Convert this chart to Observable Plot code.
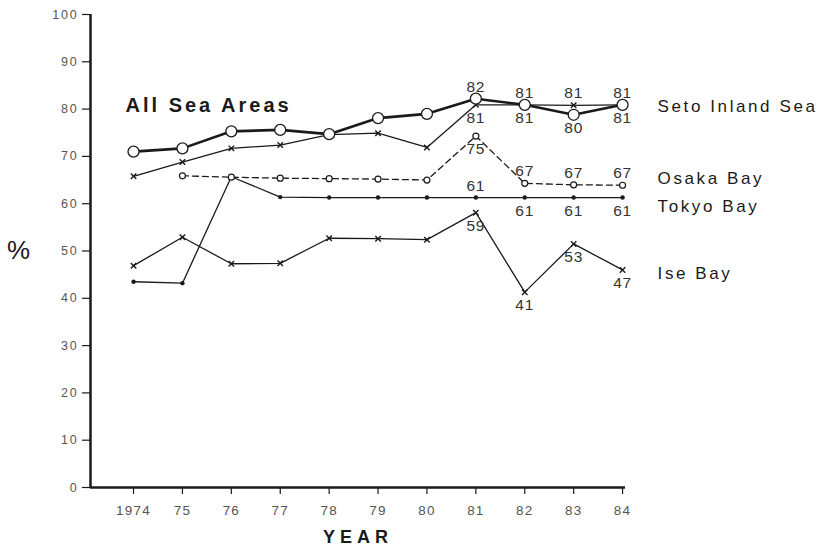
<!DOCTYPE html>
<html><head><meta charset="utf-8">
<script src="https://cdn.jsdelivr.net/npm/d3@7"></script>
<script src="https://cdn.jsdelivr.net/npm/@observablehq/plot@0.6"></script>
<style>body{margin:0;background:#fff} svg{display:block}</style>
</head><body><div id="chart"></div>
<script>
const years = [1974, 1975, 1976, 1977, 1978, 1979, 1980, 1981, 1982, 1983, 1984];
const yearTickLabels = ["1974", "75", "76", "77", "78", "79", "80", "81", "82", "83", "84"];
const yTicks = [0, 10, 20, 30, 40, 50, 60, 70, 80, 90, 100];

const allSeaAreas   = [71.0, 71.7, 75.3, 75.6, 74.7, 78.1, 79.0, 82.2, 80.9, 78.8, 80.9];
const setoInlandSea = [65.8, 68.8, 71.7, 72.4, 74.6, 74.9, 71.9, 80.9, 80.9, 80.8, 80.9];
const osakaBay      = [null, 65.9, 65.6, 65.4, 65.3, 65.2, 65.0, 74.3, 64.3, 64.0, 63.9];
const tokyoBay      = [43.5, 43.2, 65.7, 61.4, 61.3, 61.3, 61.3, 61.3, 61.3, 61.3, 61.3];
const iseBay        = [46.9, 52.9, 47.3, 47.4, 52.7, 52.6, 52.4, 58.1, 41.3, 51.5, 46.0];

// value annotations: [series, year, text, side]
const valueLabels = [
  ["All Sea Areas", 1981, "82", "above"],
  ["Seto Inland Sea", 1981, "81", "below"],
  ["Seto Inland Sea", 1982, "81", "above"],
  ["All Sea Areas", 1982, "81", "below"],
  ["Seto Inland Sea", 1983, "81", "above"],
  ["All Sea Areas", 1983, "80", "below"],
  ["Seto Inland Sea", 1984, "81", "above"],
  ["All Sea Areas", 1984, "81", "below"],
  ["Osaka Bay", 1981, "75", "below"],
  ["Osaka Bay", 1982, "67", "above"],
  ["Osaka Bay", 1983, "67", "above"],
  ["Osaka Bay", 1984, "67", "above"],
  ["Tokyo Bay", 1981, "61", "above"],
  ["Tokyo Bay", 1982, "61", "below"],
  ["Tokyo Bay", 1983, "61", "below"],
  ["Tokyo Bay", 1984, "61", "below"],
  ["Ise Bay", 1981, "59", "below"],
  ["Ise Bay", 1982, "41", "below"],
  ["Ise Bay", 1983, "53", "below"],
  ["Ise Bay", 1984, "47", "below"]
];

const xDomain = [1973.12, 1984.06];
const yDomain = [0, 100];

const seriesValues = {
  "All Sea Areas": allSeaAreas,
  "Seto Inland Sea": setoInlandSea,
  "Osaka Bay": osakaBay,
  "Tokyo Bay": tokyoBay,
  "Ise Bay": iseBay
};
function rows(name) {
  return years.map((y, i) => ({year: y, value: seriesValues[name][i], series: name}))
              .filter(d => d.value != null);
}
const allRows = rows("All Sea Areas");
const setoRows = rows("Seto Inland Sea");
const osakaRows = rows("Osaka Bay");
const tokyoRows = rows("Tokyo Bay");
const iseRows = rows("Ise Bay");

const labelRows = valueLabels.map(([s, yr, t, side]) => ({
  series: s, year: yr, text: t, side,
  value: seriesValues[s][years.indexOf(yr)]
}));

const tickMap = new Map(years.map((y, i) => [y, yearTickLabels[i]]));
const font = "'Liberation Sans', Arial, Helvetica, sans-serif";
const ink = "#1a1a1a";

const lastOf = r => r[r.length - 1];
const endLabels = [
  {name: "Seto Inland Sea", d: lastOf(setoRows), dy: 2},
  {name: "Osaka Bay", d: lastOf(osakaRows), dy: -7},
  {name: "Tokyo Bay", d: lastOf(tokyoRows), dy: 9},
  {name: "Ise Bay", d: lastOf(iseRows), dy: 4}
];

const chart = Plot.plot({
  width: 820, height: 550,
  marginLeft: 90, marginRight: 195, marginTop: 14, marginBottom: 63,
  style: {fontFamily: font, fontSize: "13px", background: "white", color: ink},
  x: {domain: xDomain},
  y: {domain: yDomain},
  marks: [
    Plot.axisY({ticks: yTicks, tickSize: 8, tickPadding: 4, label: null, fill: "#555", stroke: ink, strokeWidth: 1.2}),
    Plot.axisX({ticks: years, tickFormat: d => tickMap.get(d), tickSize: 7, tickPadding: 11, label: null, fill: "#555", stroke: ink, strokeWidth: 1.2}),
    Plot.ruleX([xDomain[0]], {stroke: ink, strokeWidth: 2.5}),
    Plot.ruleY([yDomain[0]], {stroke: ink, strokeWidth: 2.5}),

    Plot.line(iseRows, {x: "year", y: "value", stroke: ink, strokeWidth: 1.3}),
    Plot.line(tokyoRows, {x: "year", y: "value", stroke: ink, strokeWidth: 1.3}),
    Plot.line(osakaRows, {x: "year", y: "value", stroke: ink, strokeWidth: 1.3, strokeDasharray: "6,4"}),
    Plot.line(setoRows, {x: "year", y: "value", stroke: ink, strokeWidth: 1.3}),
    Plot.line(allRows, {x: "year", y: "value", stroke: ink, strokeWidth: 2.6}),

    Plot.dot(iseRows, {x: "year", y: "value", symbol: "times", r: 2.6, stroke: ink, strokeWidth: 1.4}),
    Plot.dot(tokyoRows, {x: "year", y: "value", r: 2.2, fill: ink, stroke: "none"}),
    Plot.dot(osakaRows, {x: "year", y: "value", r: 3, fill: "white", stroke: ink, strokeWidth: 1.2}),
    Plot.dot(setoRows, {x: "year", y: "value", symbol: "times", r: 2.6, stroke: ink, strokeWidth: 1.4}),
    Plot.dot(allRows, {x: "year", y: "value", r: 5.5, fill: "white", stroke: ink, strokeWidth: 1.3}),

    Plot.text(labelRows.filter(d => d.side === "above"), {x: "year", y: "value", text: "text", dy: -12, fontSize: 15.5, fill: "#333"}),
    Plot.text(labelRows.filter(d => d.side === "below"), {x: "year", y: "value", text: "text", dy: 13, fontSize: 15.5, fill: "#333"}),

    ...endLabels.map(e => Plot.text([e.d], {x: "year", y: "value", text: () => e.name, dx: 35, dy: e.dy, textAnchor: "start", fontSize: 17, fill: ink})),

    Plot.text([allRows[0]], {x: "year", y: "value", text: () => "All Sea Areas", dx: -8, dy: -46, textAnchor: "start", fontSize: 20, fontWeight: "bold", fill: ink}),

    Plot.text(["%"], {frameAnchor: "left", dx: -72, textAnchor: "middle", lineAnchor: "middle", fontSize: 26, fill: ink}),
    Plot.text(["YEAR"], {frameAnchor: "bottom", dy: 50, textAnchor: "middle", lineAnchor: "middle", fontSize: 18, fontWeight: "bold", fill: ink})
  ]
});

// axis tick labels at the size and spacing of the original
d3.select(chart).selectAll('g[aria-label="y-axis tick label"] text')
  .attr("font-size", 12.5).attr("letter-spacing", 1.8);
d3.select(chart).selectAll('g[aria-label="x-axis tick label"] text')
  .attr("font-size", 13.5).attr("letter-spacing", 1.2);

// letter spacing like the typeset original
const spacing = {"Seto Inland Sea": 2.6, "Osaka Bay": 2.6, "Tokyo Bay": 2.6, "Ise Bay": 2.6, "All Sea Areas": 3, "YEAR": 5};
d3.select(chart).selectAll('g:not([aria-label$="tick label"]) > text').each(function() {
  const t = this.textContent;
  if (spacing[t] != null) this.setAttribute("letter-spacing", spacing[t]);
  else if (/^\d+$/.test(t)) this.setAttribute("letter-spacing", 0.8);
});
document.getElementById("chart").appendChild(chart);
</script>
</body></html>
